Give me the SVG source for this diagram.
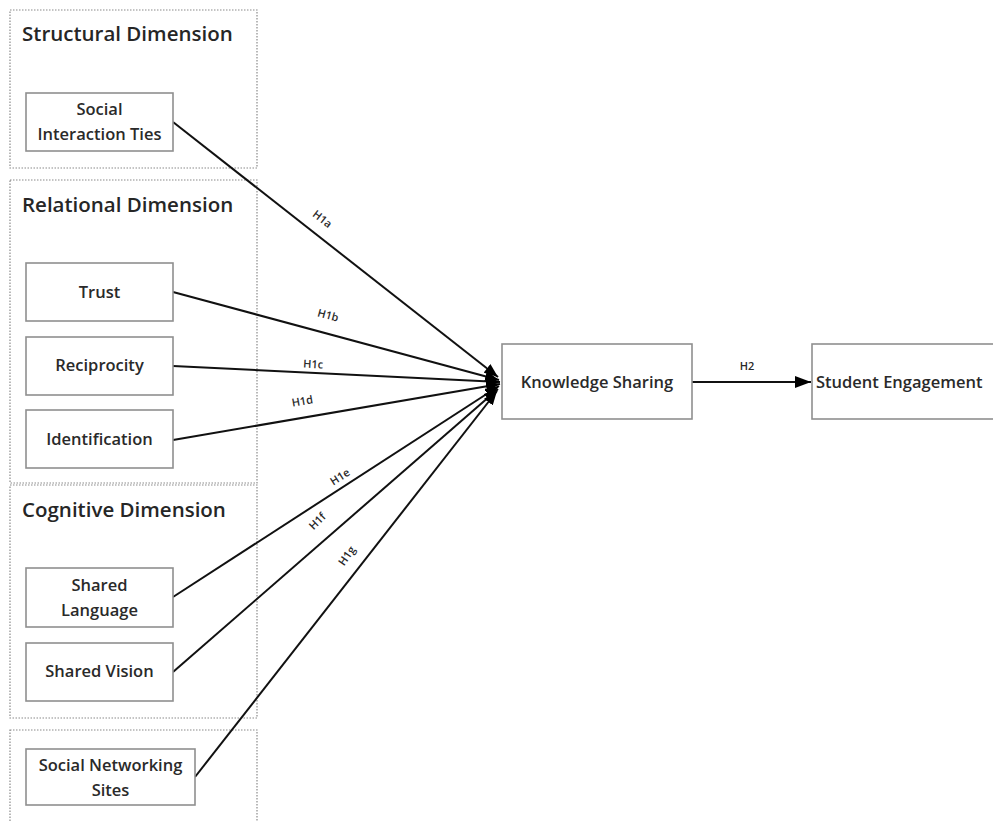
<svg xmlns="http://www.w3.org/2000/svg" width="993" height="822" viewBox="0 0 993 822">
<defs>
<style>
.grp{fill:none;stroke:#8a8a8a;stroke-width:1.2;stroke-dasharray:1.5,1.5}
.node{fill:#fff;stroke:#8f8f8f;stroke-width:1.6}
.title{font-family:"Open Sans",sans-serif;font-weight:600;font-size:20.5px;fill:#262626}
.lbl{font-family:"Open Sans",sans-serif;font-weight:600;font-size:16.5px;fill:#2a2a2a;text-anchor:middle}
.hl{font-family:"Open Sans",sans-serif;font-weight:600;font-size:11px;fill:#2a2a2a;text-anchor:middle}
.con{stroke:#111;stroke-width:2;fill:none;marker-end:url(#ah)}
</style>
<marker id="ah" viewBox="0 0 10 10" refX="10" refY="5" markerWidth="14" markerHeight="11" markerUnits="userSpaceOnUse" orient="auto" preserveAspectRatio="none">
<path d="M0,0 L10,5 L0,10 z" fill="#000"/>
</marker>
<marker id="ah2" viewBox="0 0 10 10" refX="10" refY="5" markerWidth="16" markerHeight="12" markerUnits="userSpaceOnUse" orient="auto" preserveAspectRatio="none">
<path d="M0,0 L10,5 L0,10 z" fill="#000"/>
</marker>
</defs>
<rect width="993" height="822" fill="#fff"/>
<g id="structural">
<rect class="grp" x="10" y="10" width="247" height="158"/>
<text class="title" x="22" y="41">Structural Dimension</text>
</g>
<g id="relational">
<rect class="grp" x="10" y="180" width="247" height="303"/>
<text class="title" x="22" y="212">Relational Dimension</text>
</g>
<g id="cognitive">
<rect class="grp" x="10" y="485" width="247" height="233"/>
<text class="title" x="22" y="517">Cognitive Dimension</text>
</g>
<g id="snsgroup">
<rect class="grp" x="10" y="730" width="247" height="100"/>
</g>
<g id="connectors">
<line class="con" x1="173" y1="122" x2="498" y2="377"/>
<line class="con" x1="173" y1="292" x2="499" y2="380"/>
<line class="con" x1="173" y1="366" x2="500" y2="382"/>
<line class="con" x1="173" y1="440" x2="500" y2="384"/>
<line class="con" x1="173" y1="597" x2="499" y2="386"/>
<line class="con" x1="173" y1="672" x2="498" y2="389"/>
<line class="con" x1="195" y1="777" x2="497" y2="391"/>
<line x1="692" y1="382" x2="811" y2="382" stroke="#111" stroke-width="2" marker-end="url(#ah2)"/>
<text class="hl" transform="translate(320,222) rotate(38)">H1a</text>
<text class="hl" transform="translate(327,319) rotate(15)">H1b</text>
<text class="hl" transform="translate(313,368) rotate(3)">H1c</text>
<text class="hl" transform="translate(303,405) rotate(-10)">H1d</text>
<text class="hl" transform="translate(342,480) rotate(-33)">H1e</text>
<text class="hl" transform="translate(320,524) rotate(-45)">H1f</text>
<text class="hl" transform="translate(350,558) rotate(-55)">H1g</text>
<text class="hl" x="747" y="370">H2</text>
</g>
<g id="sit">
<rect class="node" x="26" y="93" width="147" height="58"/>
<text class="lbl" x="99.5" y="115">Social</text>
<text class="lbl" x="99.5" y="140">Interaction Ties</text>
</g>
<g id="trust">
<rect class="node" x="26" y="263" width="147" height="58"/>
<text class="lbl" x="99.5" y="298">Trust</text>
</g>
<g id="reciprocity">
<rect class="node" x="26" y="337" width="147" height="58"/>
<text class="lbl" x="99.5" y="371">Reciprocity</text>
</g>
<g id="identification">
<rect class="node" x="26" y="410" width="147" height="58"/>
<text class="lbl" x="99.5" y="445">Identification</text>
</g>
<g id="sharedlanguage">
<rect class="node" x="26" y="568" width="147" height="59"/>
<text class="lbl" x="99.5" y="591">Shared</text>
<text class="lbl" x="99.5" y="616">Language</text>
</g>
<g id="sharedvision">
<rect class="node" x="26" y="643" width="147" height="58"/>
<text class="lbl" x="99.5" y="677">Shared Vision</text>
</g>
<g id="sns">
<rect class="node" x="26" y="749" width="169" height="56"/>
<text class="lbl" x="110.5" y="771">Social Networking</text>
<text class="lbl" x="110.5" y="796">Sites</text>
</g>
<g id="ks">
<rect class="node" x="502" y="344" width="190" height="75"/>
<text class="lbl" x="597" y="388">Knowledge Sharing</text>
</g>
<g id="se">
<rect class="node" x="812" y="344" width="200" height="75"/>
<text class="lbl" x="816" y="388" style="text-anchor:start">Student Engagement</text>
</g>
</svg>
